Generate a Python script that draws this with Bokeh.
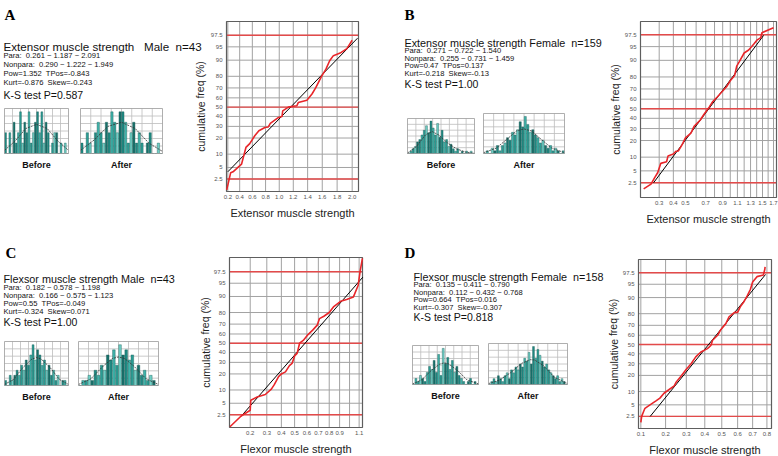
from statistics import NormalDist
from bokeh.plotting import figure
from bokeh.models import Range1d
from bokeh.embed import file_html
from bokeh.resources import INLINE
from bokeh.core.properties import value

ND = NormalDist()
SP = "\u00a0"
NAN = float("nan")

# ------------------------------------------------------------------ data
pct_ticks = [2.5, 5, 10, 20, 30, 40, 50, 60, 70, 80, 90, 95, 97.5]
pct_tick_labels = ["2.5", "5", "10", "20", "30", "40", "50", "60", "70", "80", "90", "95", "97.5"]
ref_pcts = [2.5, 50, 97.5]

# Panel A : Extensor, male
a_letter = "A"
a_title = "Extensor muscle strength" + SP * 3 + "Male" + SP * 2 + "n=43"
a_info = ["Para:" + SP + " 0.261 ~ 1.187 ~ 2.091", "Nonpara:" + SP + " 0.290 ~ 1.222 ~ 1.949",
          "Pow=1.352" + SP + " TPos=-0.843", "Kurt=-0.876" + SP + " Skew=-0.243"]
a_ks = "K-S test P=0.587"
a_xlabel = "Extensor muscle strength"
a_ecdf_x = [0.18, 0.25, 0.29, 0.43, 0.50, 0.56, 0.64, 0.70, 0.79, 0.84, 0.87, 0.99, 1.04, 1.05,
            1.13, 1.20, 1.25, 1.27, 1.39, 1.46, 1.51, 1.59, 1.65, 1.70, 1.75, 1.84, 1.93, 2.00]
a_ecdf_p = [1.2, 3.7, 3.9, 6.0, 13.6, 16, 22, 26, 29, 29.5, 33, 39, 40, 46,
            50, 51, 51.5, 55, 57.5, 64, 70, 80, 85, 89.7, 92, 93, 94.5, 96.6]
a_fit_x = [0.20, 2.07]
a_fit_p = [3.9, 97.0]
a_xticks = [0.2, 0.4, 0.6, 0.8, 1.0, 1.2, 1.4, 1.6, 1.8, 2.0]
a_xtick_labels = ["0.2", "0.4", "0.6", "0.8", "1.0", "1.2", "1.4", "1.6", "1.8", "2.0"]
a_xgrid = [0.2, 0.4, 0.6, 0.8, 1.0, 1.2, 1.4, 1.6, 1.8, 2.0]
a_hist_before = [2, 0, 2, 0, 3, 1, 2, 4, 1, 3, 2, 4, 1, 2, 3, 4, 2, 4, 1, 3, 2, 0, 1, 2, 2, 0, 1, 0, 1, 0]
a_curve_before_x = [0, 5, 10, 15, 20, 25, 30]
a_curve_before_y = [0.3, 1.2, 2.4, 2.8, 2.4, 1.2, 0.3]
a_hist_after = [1, 0, 2, 1, 0, 2, 3, 2, 1, 3, 2, 4, 3, 2, 4, 4, 3, 1, 2, 3, 1, 2, 1, 0, 1, 2, 0, 0, 1, 0]
a_curve_after_x = [0, 5, 10, 15, 20, 25, 30]
a_curve_after_y = [0.3, 1.3, 2.6, 3.0, 2.4, 1.0, 0.2]

# Panel B : Extensor, female
b_letter = "B"
b_title = "Extensor muscle strength Female" + SP * 2 + "n=159"
b_info = ["Para:" + SP + " 0.271 ~ 0.722 ~ 1.540", "Nonpara:" + SP + " 0.255 ~ 0.731 ~ 1.459",
          "Pow=0.47" + SP + " TPos=0.137", "Kurt=-0.218" + SP + " Skew=-0.13"]
b_ks = "K-S test P=1.00"
b_xlabel = "Extensor muscle strength"
b_ecdf_x = [0.21, 0.25, 0.27, 0.29, 0.31, 0.35, 0.36, 0.40, 0.42, 0.44, 0.47, 0.50, 0.55, 0.58, 0.64, 0.68,
            0.74, 0.78, 0.83, 0.90, 0.95, 1.00, 1.06, 1.09, 1.13, 1.20, 1.27, 1.35, 1.41, 1.47, 1.49, 1.70]
b_ecdf_p = [1.7, 2.3, 3.3, 4.5, 7.4, 8.0, 10.5, 11.5, 13, 13.2, 17, 22, 26, 32, 38, 44,
            52, 57.6, 62, 68, 72, 77, 81, 87, 89.5, 93, 94, 95.6, 96.6, 97, 97.8, 98.4]
b_fit_x = [0.265, 1.52]
b_fit_p = [2.5, 97.4]
b_xticks = [0.3, 0.4, 0.5, 0.7, 0.9, 1.1, 1.3, 1.5, 1.7]
b_xtick_labels = ["0.3", "0.4", "0.5", "0.7", "0.9", "1.1", "1.3", "1.5", "1.7"]
b_xgrid = [0.3, 0.4, 0.5, 0.6, 0.7, 0.8, 0.9, 1.0, 1.1, 1.2, 1.3, 1.4, 1.5, 1.6, 1.7]
b_hist_before = [0, 1, 2, 3, 5, 6, 8, 10, 12, 9, 14, 11, 8, 13, 7, 10, 5, 6, 3, 4, 2, 1, 2, 0, 1, 0, 1, 0, 1, 0]
b_curve_before_x = [0, 4, 8, 11, 14, 18, 22, 26, 30]
b_curve_before_y = [0.2, 3.0, 8.0, 9.5, 8.0, 4.5, 2.0, 0.6, 0.1]
b_hist_after = [0, 1, 0, 2, 1, 3, 1, 3, 4, 6, 5, 8, 7, 9, 12, 10, 14, 11, 8, 9, 7, 6, 4, 5, 3, 2, 3, 1, 2, 1, 0, 1]
b_curve_after_x = [0, 5, 10, 13, 16, 19, 22, 27, 32]
b_curve_after_y = [0.3, 2.0, 6.0, 8.5, 9.3, 8.5, 6.0, 2.0, 0.3]

# Panel C : Flexor, male
c_letter = "C"
c_title = "Flexsor muscle strength Male" + SP * 2 + "n=43"
c_info = ["Para:" + SP + " 0.182 ~ 0.578 ~ 1.198", "Nonpara:" + SP + " 0.166 ~ 0.575 ~ 1.123",
          "Pow=0.55" + SP + " TPos=-0.049", "Kurt=-0.324" + SP + " Skew=0.071"]
c_ks = "K-S test P=1.00"
c_xlabel = "Flexor muscle strength"
c_ecdf_x = [0.10, 0.152, 0.20, 0.203, 0.24, 0.29, 0.33, 0.35, 0.38, 0.40, 0.43, 0.46, 0.48, 0.50, 0.52,
            0.54, 0.57, 0.61, 0.65, 0.69, 0.71, 0.75, 0.80, 0.84, 0.91, 0.97, 1.04, 1.09, 1.11, 1.135]
c_ecdf_p = [1.1, 2.3, 3.3, 5.9, 7, 8, 10.4, 12.8, 18, 20, 21.6, 27, 29, 36.4, 39,
            50, 53, 59.4, 64, 69, 75, 77, 80, 84, 87.5, 88.5, 89.8, 94.4, 97.5, 99]
c_fit_x = [0.15, 1.14]
c_fit_p = [2.2, 96.5]
c_xticks = [0.2, 0.3, 0.4, 0.5, 0.6, 0.7, 0.8, 0.9, 1.1]
c_xtick_labels = ["0.2", "0.3", "0.4", "0.5", "0.6", "0.7", "0.8", "0.9", "1.1"]
c_xgrid = [0.2, 0.3, 0.4, 0.5, 0.6, 0.7, 0.8, 0.9, 1.0, 1.1]
c_hist_before = [1, 0, 2, 1, 2, 3, 2, 4, 3, 5, 4, 6, 8, 5, 7, 6, 4, 5, 3, 4, 2, 3, 1, 2, 0, 1, 1, 0]
c_curve_before_x = [0, 4, 8, 12, 14, 16, 20, 24, 28]
c_curve_before_y = [0.2, 1.2, 3.5, 5.2, 5.5, 5.2, 3.5, 1.2, 0.2]
c_hist_after = [0, 1, 1, 2, 1, 3, 2, 4, 3, 6, 5, 7, 4, 8, 6, 7, 5, 6, 3, 4, 2, 3, 1, 2, 1, 0]
c_curve_after_x = [0, 4, 8, 11, 13, 15, 18, 22, 26]
c_curve_after_y = [0.2, 1.3, 3.8, 5.3, 5.6, 5.3, 3.8, 1.3, 0.2]

# Panel D : Flexor, female
d_letter = "D"
d_title = "Flexsor muscle strength Female" + SP * 2 + "n=158"
d_info = ["Para:" + SP + " 0.135 ~ 0.411 ~ 0.790", "Nonpara:" + SP + " 0.112 ~ 0.432 ~ 0.768",
          "Pow=0.664" + SP + " TPos=0.016", "Kurt=-0.307" + SP + " Skew=-0.307"]
d_ks = "K-S test P=0.818"
d_xlabel = "Flexor muscle strength"
d_ecdf_x = [0.100, 0.103, 0.11, 0.115, 0.13, 0.16, 0.175, 0.193, 0.21, 0.24, 0.25, 0.275, 0.30, 0.325,
            0.35, 0.378, 0.415, 0.435, 0.445, 0.475, 0.495, 0.525, 0.545, 0.58, 0.60, 0.617, 0.64,
            0.665, 0.685, 0.70, 0.73, 0.775, 0.785, 0.787]
d_ecdf_p = [1.7, 2.5, 3.4, 4.1, 4.8, 6.3, 7.2, 9.2, 10.5, 13, 15.4, 19.7, 25, 30,
            36.8, 42, 45.6, 49, 54.7, 60, 66, 71.6, 77.5, 81, 81, 84.8, 87.7,
            91, 93.4, 95.6, 96.8, 97.1, 98, 98.3]
d_fit_x = [0.135, 0.79]
d_fit_p = [2.5, 97.2]
d_xticks = [0.1, 0.2, 0.3, 0.4, 0.5, 0.6, 0.7, 0.8]
d_xtick_labels = ["0.1", "0.2", "0.3", "0.4", "0.5", "0.6", "0.7", "0.8"]
d_xgrid = [0.1, 0.2, 0.3, 0.4, 0.5, 0.6, 0.7, 0.8]
d_hist_before = [0, 2, 1, 3, 2, 1, 4, 6, 5, 8, 4, 10, 3, 12, 7, 9, 5, 8, 4, 6, 3, 2, 1, 0, 1, 2, 0, 1, 0]
d_curve_before_x = [0, 4, 8, 12, 14, 16, 20, 24, 29]
d_curve_before_y = [0.2, 1.5, 4.5, 6.8, 7.2, 6.8, 4.5, 1.5, 0.2]
d_hist_after = [0, 1, 2, 1, 3, 2, 1, 3, 4, 2, 5, 4, 6, 5, 7, 6, 9, 8, 11, 7, 13, 9, 12, 10, 8, 6, 7, 5,
                4, 3, 2, 3, 1, 2, 1, 0]
d_curve_after_x = [0, 5, 10, 15, 19, 21, 25, 30, 36]
d_curve_after_y = [0.3, 1.5, 4.0, 7.2, 8.5, 8.4, 6.5, 2.5, 0.3]

# ------------------------------------------------------------------ style / layout
FONT = value("Liberation Sans")
SERIF = value("Liberation Serif")
RED = "#e8262a"
REDLINE = "#e34a4a"
GRID = "#a2a2a2"
FRAME = "#5e5e5e"
TEALS = ["#1f8a83", "#3fb3aa", "#2a9d94", "#6fcfc6", "#17706a"]

p = figure(width=778, height=456, x_range=Range1d(0, 778), y_range=Range1d(456, 0),
           x_axis_type=None, y_axis_type=None, output_backend="svg", toolbar_location=None,
           min_border=0, outline_line_color=None)
p.grid.visible = False


def z_of(q):
    return ND.inv_cdf(q / 100.0)


def broken(pairs_x, pairs_y):
    """Join several 2-point lines into one NaN-separated line."""
    xs, ys = [], []
    for (xa, xb), (ya, yb) in zip(pairs_x, pairs_y):
        xs += [xa, xb, NAN]
        ys += [ya, yb, NAN]
    return xs, ys


def prob_panel(ecdf_x, ecdf_p, fit_x, fit_p, xticks, xlabels, xgrid, xlabel, pw,
               xlo, xhi, zlo, zhi, fx0, fx1, fy0, fy1, ylab_x):
    tr = lambda v: float(v) ** pw
    tlo, thi = tr(xlo), tr(xhi)
    sub = p.subplot(x_source=Range1d(tlo, thi), y_source=Range1d(zlo, zhi),
                    x_target=Range1d(fx0, fx1), y_target=Range1d(fy1, fy0))
    gx = [tr(v) for v in xgrid]
    gz = [z_of(q) for q in pct_ticks]
    vxs, vys = broken([(v, v) for v in gx], [(zlo, zhi) for _ in gx])
    hxs, hys = broken([(tlo, thi) for _ in gz], [(v, v) for v in gz])
    sub.line(x=vxs, y=vys, line_color=GRID, line_width=1)
    sub.line(x=hxs, y=hys, line_color=GRID, line_width=1)
    rz = [z_of(q) for q in ref_pcts]
    rxs, rys = broken([(tlo, thi) for _ in rz], [(v, v) for v in rz])
    sub.line(x=rxs, y=rys, line_color=REDLINE, line_width=1.4)
    sub.quad(left=[tlo], right=[thi], bottom=[zlo], top=[zhi], fill_color=None,
             line_color=FRAME, line_width=1.2)
    sub.line(x=[tr(v) for v in fit_x], y=[z_of(q) for q in fit_p], line_color="black", line_width=1)
    sub.line(x=[tr(v) for v in ecdf_x], y=[z_of(q) for q in ecdf_p], line_color=RED, line_width=1.6)
    sub.text(x=[tlo] * len(gz), y=gz, text=pct_tick_labels, x_offset=-4, text_align="right",
             text_baseline="middle", text_font=FONT, text_font_size="6px", text_color="#555555")
    tx = [tr(v) for v in xticks]
    sub.text(x=tx, y=[zlo] * len(tx), text=xlabels, y_offset=3, text_align="center",
             text_baseline="top", text_font=FONT, text_font_size="6px", text_color="#555555")
    p.text(x=[(fx0 + fx1) / 2], y=[fy1 + 21], text=[xlabel], text_align="center",
           text_baseline="alphabetic", text_font=FONT, text_font_size="11px", text_color="#222222")
    p.text(x=[ylab_x], y=[(fy0 + fy1) / 2], text=["cumulative freq (%)"], angle=1.5708,
           text_align="center", text_baseline="middle", text_font=FONT, text_font_size="10.5px",
           text_color="#222222")


def hist_panel(heights, cx, cy, x0, x1, y0, y1, label):
    n = len(heights)
    ymax = max(heights) * 1.08
    sub = p.subplot(x_source=Range1d(0, n), y_source=Range1d(0, ymax),
                    x_target=Range1d(x0, x1), y_target=Range1d(y1, y0))
    vx = [n * k / 8 for k in range(1, 8)]
    sub.segment(x0=vx, y0=[0] * len(vx), x1=vx, y1=[ymax] * len(vx), line_color="#bdbdbd", line_width=0.8)
    hy = [ymax * k / 6 for k in range(1, 6)]
    sub.segment(x0=[0] * len(hy), y0=hy, x1=[n] * len(hy), y1=hy, line_color="#bdbdbd", line_width=0.8)
    cols = [TEALS[i % len(TEALS)] for i in range(n)]
    sub.vbar(x=[i + 0.5 for i in range(n)], top=heights, bottom=0, width=0.85, fill_color=cols,
             line_color="#1b5c57", line_width=0.4)
    sub.line(x=cx, y=cy, line_color="#333333", line_width=0.8, line_dash="2 1")
    sub.quad(left=[0], right=[n], bottom=[0], top=[ymax], fill_color=None, line_color="#9a9a9a",
             line_width=0.8)
    p.text(x=[(x0 + x1) / 2], y=[y1 + 11], text=[label], text_align="center", text_baseline="alphabetic",
           text_font=FONT, text_font_size="9px", text_font_style="bold", text_color="#111111")


def info_block(letter, lx, ly, title, info, ks, tx, ty, line_ys, ks_y, title_size, info_size):
    p.text(x=[lx], y=[ly], text=[letter], text_font=SERIF, text_font_style="bold", text_font_size="15px",
           text_baseline="alphabetic", text_color="black")
    p.text(x=[tx], y=[ty], text=[title], text_font=FONT, text_font_size=title_size,
           text_baseline="alphabetic", text_color="#111111")
    p.text(x=[tx] * len(info), y=line_ys, text=info, text_font=FONT, text_font_size=info_size,
           text_baseline="alphabetic", text_color="#111111")
    p.text(x=[tx], y=[ks_y], text=[ks], text_font=FONT, text_font_size="10.5px",
           text_baseline="alphabetic", text_color="#111111")


# Panel A
info_block(a_letter, 4, 14, a_title, a_info, a_ks, 3, 46, [55, 64, 73, 82], 94, "11.6px", "7.6px")
hist_panel(a_hist_before, a_curve_before_x, a_curve_before_y, 4, 68, 108, 153, "Before")
hist_panel(a_hist_after, a_curve_after_x, a_curve_after_y, 80, 162, 108, 153, "After")
prob_panel(a_ecdf_x, a_ecdf_p, a_fit_x, a_fit_p, a_xticks, a_xtick_labels, a_xgrid, a_xlabel, 1.13,
           0.176, 2.083, -2.30, 2.336, 226, 358, 21, 191, 200)

# Panel B
info_block(b_letter, 404, 14, b_title, b_info, b_ks, 404, 42, [50, 57.5, 65, 73], 83, "10.8px", "7.6px")
hist_panel(b_hist_before, b_curve_before_x, b_curve_before_y, 407, 474, 118, 153, "Before")
hist_panel(b_hist_after, b_curve_after_x, b_curve_after_y, 483, 564, 113, 153, "After")
prob_panel(b_ecdf_x, b_ecdf_p, b_fit_x, b_fit_p, b_xticks, b_xtick_labels, b_xgrid, b_xlabel, 0.38,
           0.194, 1.757, -2.35, 2.31, 640, 776, 21, 197, 615)

# Panel C
info_block(c_letter, 5, 252, c_title, c_info, c_ks, 3, 278, [287, 295, 303, 311], 321, "10.8px", "7.6px")
hist_panel(c_hist_before, c_curve_before_x, c_curve_before_y, 4, 68, 341, 385, "Before")
hist_panel(c_hist_after, c_curve_after_x, c_curve_after_y, 78, 158, 341, 385, "After")
prob_panel(c_ecdf_x, c_ecdf_p, c_fit_x, c_fit_p, c_xticks, c_xtick_labels, c_xgrid, c_xlabel, 0.62,
           0.098, 1.136, -2.31, 2.35, 229, 362, 257, 427, 205)

# Panel D
info_block(d_letter, 404, 252, d_title, d_info, d_ks, 413, 276, [284, 292, 299, 307], 316, "10.8px", "7.6px")
hist_panel(d_hist_before, d_curve_before_x, d_curve_before_y, 412, 478, 345, 384, "Before")
hist_panel(d_hist_after, d_curve_after_x, d_curve_after_y, 488, 567, 343, 384, "After")
prob_panel(d_ecdf_x, d_ecdf_p, d_fit_x, d_fit_p, d_xticks, d_xtick_labels, d_xgrid, d_xlabel, 0.664,
           0.0918, 0.833, -2.29, 2.32, 638, 771, 259, 428, 613)

open("out.html", "w").write(file_html(p, INLINE))
